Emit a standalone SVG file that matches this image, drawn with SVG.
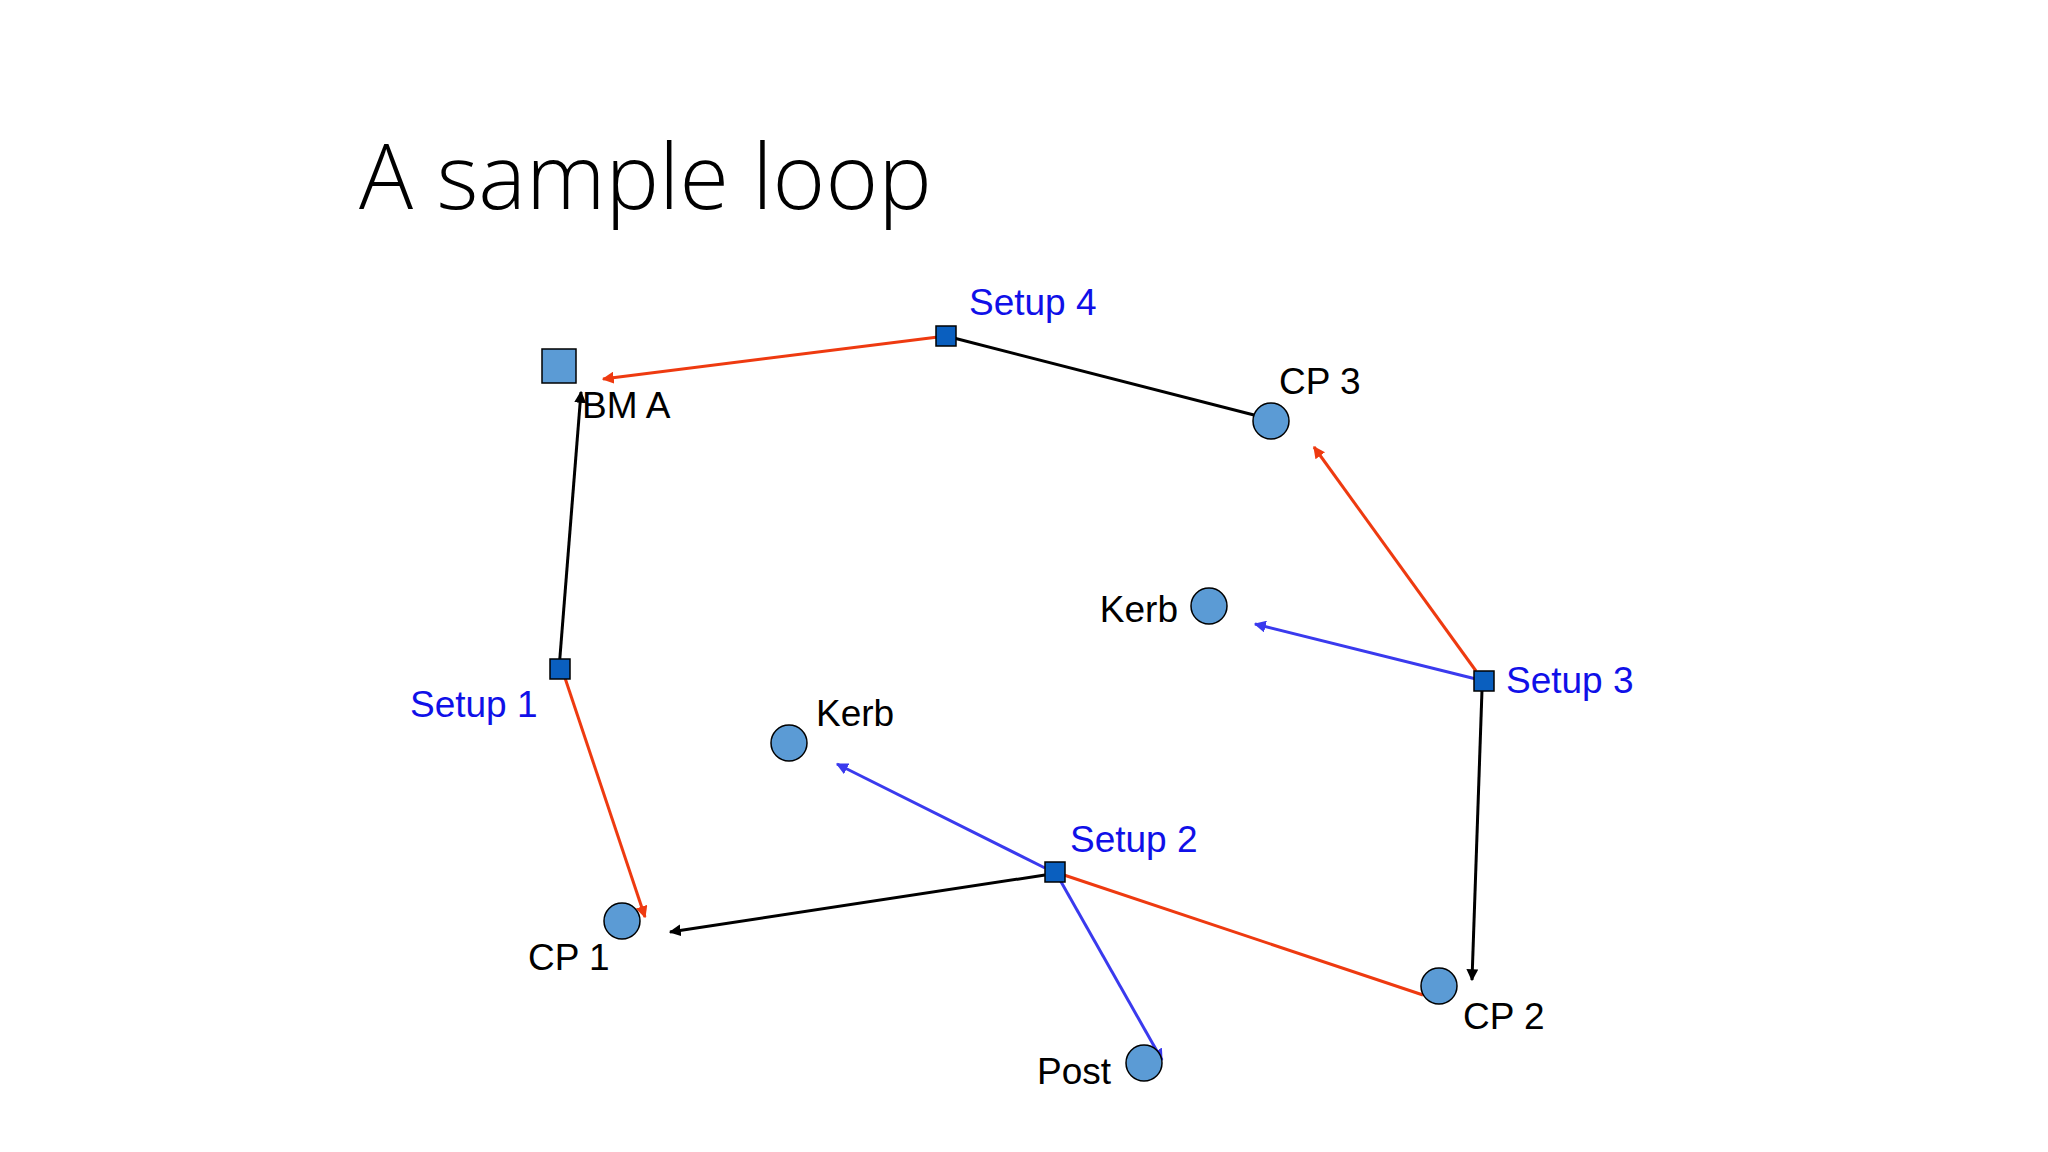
<svg xmlns="http://www.w3.org/2000/svg" width="2048" height="1152" viewBox="0 0 2048 1152">
<style>
.t{font-family:"Liberation Sans",Arial,sans-serif;font-size:37px;fill:#000}
.s{font-family:"Liberation Sans",Arial,sans-serif;font-size:37px;fill:#1010e8}
.c{fill:#5b9bd5;stroke:#000;stroke-width:1.5}
.q{fill:#0a5fbf;stroke:#000;stroke-width:1.5}
.r{stroke:#ee3a10;stroke-width:3;fill:none}
.k{stroke:#000;stroke-width:3;fill:none}
.b{stroke:#3a3aee;stroke-width:3;fill:none}
</style>
<defs>
<marker id="ar" viewBox="0 0 10 10" refX="9" refY="5" markerWidth="4" markerHeight="4" orient="auto"><path d="M0,0L10,5L0,10z" fill="#ee3a10"/></marker>
<marker id="ak" viewBox="0 0 10 10" refX="9" refY="5" markerWidth="4" markerHeight="4" orient="auto"><path d="M0,0L10,5L0,10z" fill="#000"/></marker>
<marker id="ab" viewBox="0 0 10 10" refX="9" refY="5" markerWidth="4" markerHeight="4" orient="auto"><path d="M0,0L10,5L0,10z" fill="#3a3aee"/></marker>
</defs>
<rect width="2048" height="1152" fill="#fff"/>
<text x="359" y="209" font-family="'Open Sans',sans-serif" font-weight="300" font-size="90">A sample loop</text>
<g id="connectors">
<line class="r" x1="946" y1="336" x2="603" y2="379" marker-end="url(#ar)"/>
<line class="k" x1="946" y1="336" x2="1254" y2="415"/>
<line class="k" x1="559" y1="669" x2="581" y2="392" marker-end="url(#ak)"/>
<line class="r" x1="562" y1="669" x2="645" y2="917" marker-end="url(#ar)"/>
<line class="r" x1="1476" y1="671" x2="1314" y2="447" marker-end="url(#ar)"/>
<line class="b" x1="1476" y1="679" x2="1255" y2="624" marker-end="url(#ab)"/>
<line class="k" x1="1482" y1="690" x2="1472" y2="980" marker-end="url(#ak)"/>
<line class="b" x1="1045" y1="868" x2="837" y2="764" marker-end="url(#ab)"/>
<line class="k" x1="1045" y1="875" x2="670" y2="932" marker-end="url(#ak)"/>
<line class="b" x1="1060" y1="880" x2="1162" y2="1060" marker-end="url(#ab)"/>
<line class="r" x1="1064" y1="875" x2="1423" y2="995"/>
</g>
<g id="bma"><rect class="c" x="542" y="349" width="34" height="34"/><text class="t" x="582" y="418">BM A</text></g>
<g id="setup4"><rect class="q" x="936" y="326" width="20" height="20"/><text class="s" x="969" y="315">Setup 4</text></g>
<g id="cp3"><circle class="c" cx="1271" cy="421" r="18"/><text class="t" x="1279" y="394">CP 3</text></g>
<g id="kerb1"><circle class="c" cx="1209" cy="606" r="18"/><text class="t" x="1178" y="622" text-anchor="end">Kerb</text></g>
<g id="setup3"><rect class="q" x="1474" y="671" width="20" height="20"/><text class="s" x="1506" y="693">Setup 3</text></g>
<g id="setup1"><rect class="q" x="550" y="659" width="20" height="20"/><text class="s" x="410" y="717">Setup 1</text></g>
<g id="kerb2"><circle class="c" cx="789" cy="743" r="18"/><text class="t" x="816" y="726">Kerb</text></g>
<g id="setup2"><rect class="q" x="1045" y="862" width="20" height="20"/><text class="s" x="1070" y="852">Setup 2</text></g>
<g id="cp1"><circle class="c" cx="622" cy="921" r="18"/><text class="t" x="528" y="970">CP 1</text></g>
<g id="cp2"><circle class="c" cx="1439" cy="986" r="18"/><text class="t" x="1463" y="1029">CP 2</text></g>
<g id="post"><circle class="c" cx="1144" cy="1063" r="18"/><text class="t" x="1111" y="1084" text-anchor="end">Post</text></g>
</svg>
